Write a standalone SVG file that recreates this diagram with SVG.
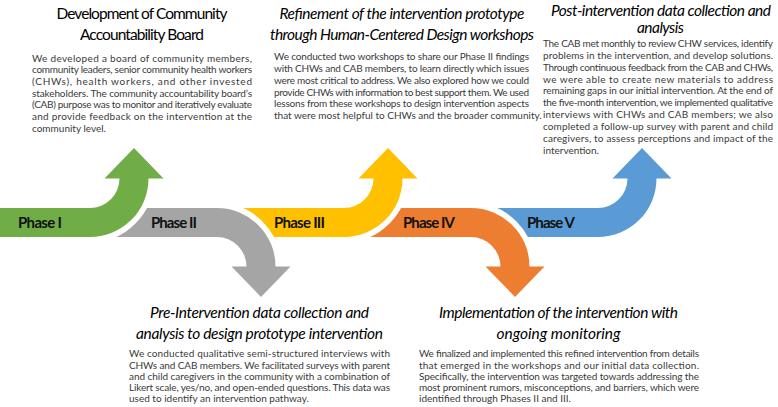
<svg xmlns="http://www.w3.org/2000/svg" width="778" height="407" viewBox="0 0 778 407">
<style>
text{font-family:Lato,"Open Sans","Liberation Sans",sans-serif}
.arrow{stroke:#fff;stroke-width:11;stroke-linejoin:round;paint-order:stroke}
.t{font-size:15.5px;fill:#000;text-anchor:middle}
.ti{font-size:15.5px;fill:#000;text-anchor:middle;font-style:italic}
.b{font-size:10px;fill:#3a3a3a}
.p{font-size:15px;font-weight:bold;fill:#111}
</style>
<rect width="778" height="407" fill="#fff"/>
<g id="connectors">
<path class="arrow" fill="#5B9BD5" d="M471,208 H598 A29.5,29.5 0 0 0 627.5,178.5 H612.5 L642,148 L671.5,178.5 H656.5 A58.5,58.5 0 0 1 598,237 H471 Z"/>
<path class="arrow" fill="#ED7D31" d="M344,208 H471 A58.5,58.5 0 0 1 529.5,266.5 H544.5 L515,297 L485.5,266.5 H500.5 A29.5,29.5 0 0 0 471,237 H344 Z"/>
<path class="arrow" fill="#FFC000" d="M217,208 H344 A29.5,29.5 0 0 0 373.5,178.5 H358.5 L388,148 L417.5,178.5 H402.5 A58.5,58.5 0 0 1 344,237 H217 Z"/>
<path class="arrow" fill="#A5A5A5" d="M90,208 H217 A58.5,58.5 0 0 1 275.5,266.5 H290.5 L261,297 L231.5,266.5 H246.5 A29.5,29.5 0 0 0 217,237 H90 Z"/>
<path class="arrow" fill="#70AD47" d="M0,208 H90 A29.5,29.5 0 0 0 119.5,178.5 H104.5 L134,148 L163.5,178.5 H148.5 A58.5,58.5 0 0 1 90,237 H0 Z"/>
</g>
<g id="phase1">
<text class="p" x="18" y="228" textLength="44">Phase I</text>
<text class="t" x="142" y="19" textLength="171">Development of Community</text>
<text class="t" x="142" y="40" textLength="124">Accountability Board</text>
<text class="b" x="32" y="61.7" textLength="220">We developed a board of community members,</text>
<text class="b" x="32" y="73.4" textLength="220">community leaders, senior community health workers</text>
<text class="b" x="32" y="85" textLength="220">(CHWs), health workers, and other invested</text>
<text class="b" x="32" y="96.7" textLength="220">stakeholders. The community accountability board’s</text>
<text class="b" x="32" y="108.4" textLength="220">(CAB) purpose was to monitor and iteratively evaluate</text>
<text class="b" x="32" y="120" textLength="220">and provide feedback on the intervention at the</text>
<text class="b" x="32" y="131.7">community level.</text>
</g>
<g id="phase2">
<text class="p" x="151" y="228" textLength="46">Phase II</text>
<text class="ti" x="259.5" y="318" textLength="219">Pre-Intervention data collection and</text>
<text class="ti" x="259.5" y="338.5" textLength="247">analysis to design prototype intervention</text>
<text class="b" x="129" y="357.2" textLength="261">We conducted qualitative semi-structured interviews with</text>
<text class="b" x="129" y="368.5" textLength="261">CHWs and CAB members. We facilitated surveys with parent</text>
<text class="b" x="129" y="379.8" textLength="261">and child caregivers in the community with a combination of</text>
<text class="b" x="129" y="391.1" textLength="261">Likert scale, yes/no, and open-ended questions. This data was</text>
<text class="b" x="129" y="402.4">used to identify an intervention pathway.</text>
</g>
<g id="phase3">
<text class="p" x="274" y="228" textLength="51">Phase III</text>
<text class="ti" x="402" y="18.5" textLength="245">Refinement of the intervention prototype</text>
<text class="ti" x="402" y="39.5" textLength="264">through Human-Centered Design workshops</text>
<text class="b" x="274" y="60.1" textLength="255">We conducted two workshops to share our Phase II findings</text>
<text class="b" x="274" y="71.9" textLength="255">with CHWs and CAB members, to learn directly which issues</text>
<text class="b" x="274" y="83.7" textLength="255">were most critical to address. We also explored how we could</text>
<text class="b" x="274" y="95.5" textLength="255">provide CHWs with information to best support them. We used</text>
<text class="b" x="274" y="107.3" textLength="255">lessons from these workshops to design intervention aspects</text>
<text class="b" x="274" y="119.1">that were most helpful to CHWs and the broader community.</text>
</g>
<g id="phase4">
<text class="p" x="403" y="228" textLength="52">Phase IV</text>
<text class="ti" x="558.5" y="318" textLength="239">Implementation of the intervention with</text>
<text class="ti" x="558.5" y="338.5" textLength="124">ongoing monitoring</text>
<text class="b" x="419" y="357.2" textLength="280">We finalized and implemented this refined intervention from details</text>
<text class="b" x="419" y="368.5" textLength="280">that emerged in the workshops and our initial data collection.</text>
<text class="b" x="419" y="379.8" textLength="280">Specifically, the intervention was targeted towards addressing the</text>
<text class="b" x="419" y="391.1" textLength="280">most prominent rumors, misconceptions, and barriers, which were</text>
<text class="b" x="419" y="402.4">identified through Phases II and III.</text>
</g>
<g id="phase5">
<text class="p" x="527" y="228" textLength="48">Phase V</text>
<text class="ti" x="661" y="15.5" textLength="220">Post-intervention data collection and</text>
<text class="ti" x="660.5" y="32.5" textLength="47">analysis</text>
<text class="b" x="543" y="46.7" textLength="230">The CAB met monthly to review CHW services, identify</text>
<text class="b" x="543" y="58.6" textLength="230">problems in the intervention, and develop solutions.</text>
<text class="b" x="543" y="70.6" textLength="230">Through continuous feedback from the CAB and CHWs,</text>
<text class="b" x="543" y="82.5" textLength="230">we were able to create new materials to address</text>
<text class="b" x="543" y="94.4" textLength="230">remaining gaps in our initial intervention. At the end of</text>
<text class="b" x="543" y="106.4" textLength="230">the five-month intervention, we implemented qualitative</text>
<text class="b" x="543" y="118.3" textLength="230">interviews with CHWs and CAB members; we also</text>
<text class="b" x="543" y="130.2" textLength="230">completed a follow-up survey with parent and child</text>
<text class="b" x="543" y="142.1" textLength="230">caregivers, to assess perceptions and impact of the</text>
<text class="b" x="543" y="154.1">intervention.</text>
</g>
</svg>
